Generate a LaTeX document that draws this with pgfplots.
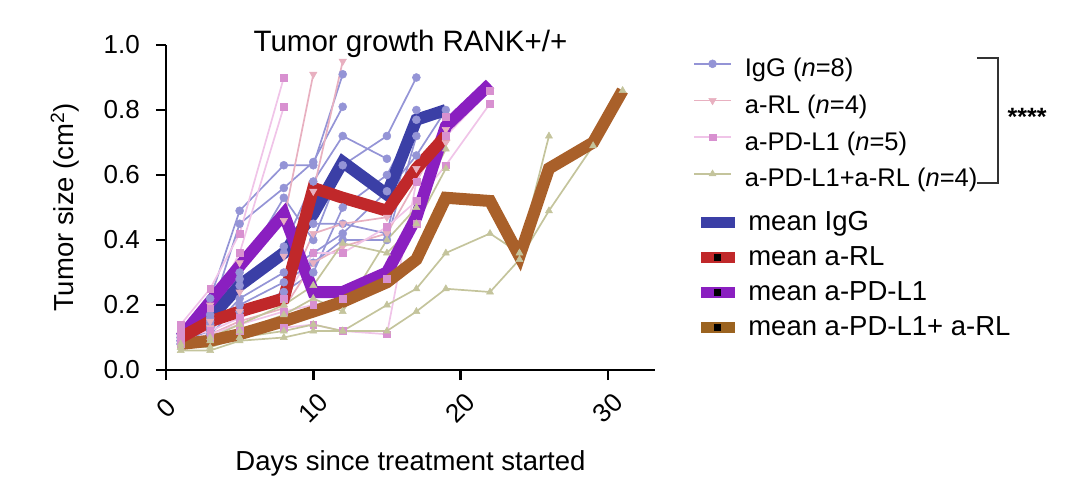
\documentclass[border=0pt]{standalone}
\usepackage{pgfplots}
\pgfplotsset{compat=1.18}
\usepackage{fontspec}
\setmainfont{Liberation Sans}
\definecolor{iggc}{HTML}{9494D6}
\definecolor{rlc}{HTML}{E8B0C0}
\definecolor{pdc}{HTML}{F0C4E8}
\definecolor{pdm}{HTML}{D890D0}
\definecolor{cbc}{HTML}{C4C49C}
\definecolor{mIgG}{HTML}{3B3FA6}
\definecolor{mRL}{HTML}{C0282A}
\definecolor{mPD}{HTML}{8A1FC0}
\definecolor{mCB}{HTML}{A9602A}
\newcommand\tickfont{\fontsize{26}{30}\selectfont}
\newcommand\lblfont{\fontsize{27.5}{32}\selectfont}
\newcommand\legfont{\fontsize{25.5}{30}\selectfont}
\pgfplotsset{
  igg/.style={color=iggc, line width=1.7pt, mark=*, mark size=4pt, mark options={fill=iggc, draw=iggc, line width=0.5pt}},
  rl/.style={color=rlc, line width=1.7pt, mark=triangle*, mark size=4.3pt, mark options={rotate=180, fill=rlc, draw=rlc, line width=0.5pt}},
  pd/.style={color=pdc, line width=1.7pt, mark=square*, mark size=3.4pt, mark options={fill=pdm, draw=pdm, line width=0.5pt}},
  cb/.style={color=cbc, line width=1.7pt, mark=triangle*, mark size=4pt, mark options={fill=cbc, draw=cbc, line width=0.5pt}},
  mean/.style={line width=12pt, line join=miter, miter limit=4, no markers},
  lineleg/.style={legend image code/.code={\draw[mark repeat=2,mark phase=2] plot coordinates {(0pt,7pt)(18.5pt,7pt)(37pt,7pt)};}},
}
\begin{document}
\begin{tikzpicture}
\useasboundingbox (-166pt,-118pt) rectangle (914pt,370pt);
\begin{axis}[
  at={(0,0)}, anchor=south west,
  scale only axis, width=489pt, height=325pt,
  xmin=0, xmax=33.2, ymin=0, ymax=1,
  clip=false,
  axis x line*=bottom, axis y line*=left,
  axis line style={line width=2.5pt, -},
  tick style={line width=2.5pt, black},
  major tick length=10pt, tick align=outside,
  xtick={0,10,20,30}, ytick={0,0.2,0.4,0.6,0.8,1.0},
  yticklabel style={/pgf/number format/fixed, /pgf/number format/fixed zerofill, /pgf/number format/precision=1, inner sep=0pt},
  /pgf/number format/assume math mode=true,
  tick label style={font=\tickfont},
  xticklabel style={rotate=45, anchor=center, inner sep=0pt},
  xticklabel shift=28pt,
  yticklabel shift=16pt,
  xlabel={Days since treatment started},
  xlabel style={font=\lblfont, at={(axis description cs:0.5,-0.3077)}, anchor=base},
  ylabel={Tumor size (cm\textsuperscript{2})},
  ylabel style={font=\lblfont, at={(axis description cs:-0.190,0.5)}, anchor=base},
  title={Tumor growth RANK+/+},
  title style={font=\fontsize{29.5}{34}\selectfont, at={(0.5,0.963)}, anchor=base},
  legend cell align=left,
  legend style={at={(1.0777,0.955)}, anchor=north west, draw=none, fill=none,
    inner sep=0pt, row sep=14.7pt, column sep=13pt, font=\legfont,
    nodes={inner sep=0pt, text height=17pt, text depth=5pt}},
]
% IgG individual
\addplot[igg, forget plot] coordinates {(1,0.10)(3,0.22)(5,0.49)(8,0.63)(10,0.63)(12,0.91)};
\addplot[igg, forget plot] coordinates {(1,0.09)(3,0.17)(5,0.45)(8,0.56)(10,0.64)(12,0.81)};
\addplot[igg, forget plot] coordinates {(1,0.08)(3,0.14)(5,0.30)(8,0.53)(10,0.40)(12,0.63)(15,0.72)(17,0.90)};
\addplot[igg, forget plot] coordinates {(1,0.10)(3,0.15)(5,0.26)(8,0.36)(10,0.45)(12,0.45)(15,0.42)(17,0.80)};
\addplot[igg, forget plot] coordinates {(1,0.09)(3,0.12)(5,0.22)(8,0.30)(10,0.36)(12,0.42)(15,0.55)(17,0.66)(19,0.80)};
\addplot[igg, forget plot] coordinates {(1,0.08)(3,0.11)(5,0.20)(8,0.27)(10,0.33)(12,0.40)(15,0.40)(17,0.72)};
\addplot[igg, forget plot] coordinates {(1,0.09)(3,0.13)(5,0.18)(8,0.24)(10,0.30)(12,0.50)(15,0.60)(17,0.77)};
\addplot[igg, forget plot] coordinates {(1,0.11)(3,0.16)(5,0.28)(8,0.38)(10,0.58)(12,0.72)(15,0.65)};
% a-RL individual
\addplot[rl, forget plot] coordinates {(1,0.11)(3,0.20)(5,0.33)(8,0.46)(10,0.91)};
\addplot[rl, forget plot] coordinates {(1,0.10)(3,0.15)(5,0.24)(8,0.35)(10,0.55)(12,0.95)};
\addplot[rl, forget plot] coordinates {(1,0.09)(3,0.13)(5,0.18)(8,0.22)(10,0.42)(12,0.45)(15,0.47)(17,0.62)(19,0.70)};
\addplot[rl, forget plot] coordinates {(1,0.08)(3,0.11)(5,0.15)(8,0.19)(10,0.33)(12,0.38)(15,0.42)(17,0.58)(19,0.74)};
% a-PD-L1 individual
\addplot[pd, forget plot] coordinates {(1,0.14)(3,0.25)(5,0.42)(8,0.90)};
\addplot[pd, forget plot] coordinates {(1,0.12)(3,0.19)(5,0.36)(8,0.81)};
\addplot[pd, forget plot] coordinates {(1,0.10)(3,0.12)(5,0.16)(8,0.22)(10,0.36)(12,0.36)(15,0.44)(17,0.52)(19,0.63)(22,0.82)};
\addplot[pd, forget plot] coordinates {(1,0.08)(3,0.10)(5,0.12)(8,0.13)(10,0.14)(12,0.12)(15,0.11)(17,0.58)(19,0.78)};
\addplot[pd, forget plot] coordinates {(1,0.09)(3,0.11)(5,0.14)(8,0.18)(10,0.20)(12,0.22)(15,0.28)(17,0.45)(19,0.72)(22,0.86)};
% combo individual
\addplot[cb, forget plot] coordinates {(1,0.07)(3,0.07)(5,0.10)(8,0.12)(10,0.14)(12,0.12)(15,0.20)(17,0.25)(19,0.36)(22,0.42)(24,0.36)(26,0.72)};
\addplot[cb, forget plot] coordinates {(1,0.06)(3,0.06)(5,0.09)(8,0.10)(10,0.12)(12,0.12)(15,0.12)(17,0.18)(19,0.25)(22,0.24)(24,0.34)(26,0.49)(29,0.69)(31,0.86)};
\addplot[cb, forget plot] coordinates {(1,0.08)(3,0.10)(5,0.14)(8,0.20)(10,0.26)(12,0.39)(15,0.36)(17,0.45)(19,0.62)};
\addplot[cb, forget plot] coordinates {(1,0.07)(3,0.09)(5,0.12)(8,0.17)(10,0.22)(12,0.18)(15,0.40)(17,0.50)(19,0.68)};
% means
\addplot[mean, color=mIgG, forget plot] coordinates {(1,0.10)(3,0.16)(5,0.26)(8,0.36)(10,0.48)(12,0.64)(15,0.54)(17,0.77)(19,0.80)};
\addplot[mean, color=mPD, forget plot] coordinates {(1,0.10)(3,0.21)(5,0.32)(8,0.48)(10,0.24)(12,0.24)(15,0.30)(17,0.47)(19,0.75)(22,0.88)};
\addplot[mean, color=mCB, forget plot] coordinates {(1,0.08)(3,0.09)(5,0.11)(8,0.15)(10,0.18)(12,0.21)(15,0.27)(17,0.34)(19,0.53)(22,0.52)(24,0.35)(26,0.62)(29,0.70)(31,0.86)};
\addplot[mean, color=mRL, forget plot] coordinates {(1,0.10)(3,0.15)(5,0.18)(8,0.22)(10,0.56)(12,0.53)(15,0.49)(17,0.62)(19,0.72)};
% legend
\addlegendimage{igg, lineleg}\addlegendentry{IgG (\textit{n}=8)}
\addlegendimage{rl, lineleg}\addlegendentry{a-RL (\textit{n}=4)}
\addlegendimage{pd, lineleg}\addlegendentry{a-PD-L1 (\textit{n}=5)}
\addlegendimage{cb, lineleg}\addlegendentry{a-PD-L1+a-RL (\textit{n}=4)}
% bracket
\draw[line width=2pt, color=black!80] (axis description cs:1.658,0.96) -- (axis description cs:1.701,0.96) -- (axis description cs:1.701,0.575) -- (axis description cs:1.658,0.575);
\node[font=\fontsize{25}{28}\selectfont\bfseries, anchor=center] at (axis description cs:1.761,0.78) {****};
\end{axis}
\begin{axis}[
  at={(0,0)}, anchor=south west,
  scale only axis, width=489pt, height=325pt,
  hide axis, xmin=0, xmax=1, ymin=0, ymax=1,
  legend cell align=left,
  legend style={at={(1.0935,0.483)}, anchor=north west, draw=none, fill=none,
    inner sep=0pt, row sep=13pt, column sep=14pt, font=\lblfont,
    nodes={inner sep=0pt, text height=17pt, text depth=5pt}},
]
\addplot[draw=none, forget plot] coordinates {(0,0)};
\addlegendimage{legend image code/.code={\fill[mIgG] (0pt,-3pt) rectangle (33pt,7pt);}}
\addlegendentry{mean IgG}
\addlegendimage{legend image code/.code={\fill[mRL] (0pt,-3pt) rectangle (33pt,7pt);\fill[black] (13.5pt,-1pt) rectangle (19.5pt,5pt);}}
\addlegendentry{mean a-RL}
\addlegendimage{legend image code/.code={\fill[mPD] (0pt,-3pt) rectangle (33pt,7pt);\fill[black] (13.5pt,-1pt) rectangle (19.5pt,5pt);}}
\addlegendentry{mean a-PD-L1}
\addlegendimage{legend image code/.code={\fill[mCB!85!black!90!yellow] (0pt,-3pt) rectangle (33pt,7pt);\fill[black] (13.5pt,-1pt) rectangle (19.5pt,5pt);}}
\addlegendentry{mean a-PD-L1+ a-RL}
\end{axis}
\end{tikzpicture}
\end{document}
